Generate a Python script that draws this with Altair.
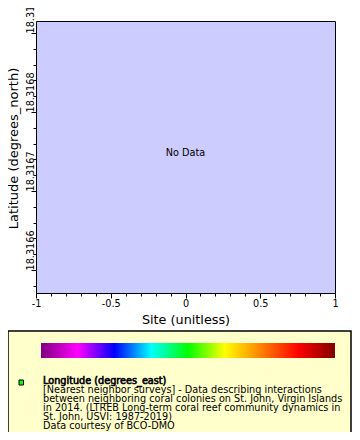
import altair as alt
import pandas as pd

FONT = "DejaVu Sans"

# ---- data / axis values ----
X_DOMAIN = [-1, 1]
X_MAJOR = [-1, -0.5, 0, 0.5, 1]
X_MINOR = [-1, -0.9, -0.8, -0.7, -0.6, -0.5, -0.4, -0.3, -0.2, -0.1, 0,
           0.1, 0.2, 0.3, 0.4, 0.5, 0.6, 0.7, 0.8, 0.9, 1]

LAT_DOMAIN = [18.3165709, 18.3169152]
LAT_MAJOR = [18.3166, 18.3167, 18.3168, 18.3169]
LAT_MINOR = [18.31658, 18.3166, 18.31662, 18.31664, 18.31666, 18.31668,
             18.3167, 18.31672, 18.31674, 18.31676, 18.31678, 18.3168,
             18.31682, 18.31684, 18.31686, 18.31688, 18.3169]

NO_DATA_SITE = [0]
NO_DATA_LAT = [18.316748]
NO_DATA_TEXT = ["No Data"]

LON_DOMAIN = [-180, 180]
LON_TICKS = [-180, -135, -90, -45, 0, 45, 90, 135, 180]
PALETTE = ["#800080", "#ff00ff", "#0000ff", "#00ffff", "#00ff00",
           "#ffff00", "#ff8000", "#ff0000", "#800000"]

LEGEND_TITLE = "Longitude (degrees_east)"
LEGEND_LINES = [
    "[Nearest neighbor surveys] - Data describing interactions",
    "between neighboring coral colonies on St. John, Virgin Islands",
    "in 2014. (LTREB Long-term coral reef community dynamics in",
    "St. John, USVI: 1987-2019)",
    "Data courtesy of BCO-DMO",
]

nd = pd.DataFrame({"site": NO_DATA_SITE, "lat": NO_DATA_LAT, "label": NO_DATA_TEXT})
dummy = pd.DataFrame({"k": [0]})
bar = pd.DataFrame({"lo": [LON_DOMAIN[0]], "hi": [LON_DOMAIN[1]]})

xscale = alt.Scale(domain=X_DOMAIN, nice=False, zero=False)
yscale = alt.Scale(domain=LAT_DOMAIN, nice=False, zero=False)

FS = 9.7

# legend box (drawn first, below everything)
box = alt.Chart(dummy).mark_rect(fill="#ffffcc", stroke="black", strokeWidth=1.5).encode(
    x=alt.value(-28), x2=alt.value(315), y=alt.value(310), y2=alt.value(417)
)

# minor ticks
minor = alt.Chart(nd).mark_text(opacity=0).encode(
    x=alt.X("site:Q", scale=xscale, axis=alt.Axis(
        orient="bottom", values=X_MINOR, labels=False, tickSize=3, tickColor="black",
        domain=False, grid=False, title=None)),
    y=alt.Y("lat:Q", scale=yscale, axis=alt.Axis(
        orient="left", values=LAT_MINOR, labels=False, tickSize=3, tickColor="black",
        domain=False, grid=False, title=None)),
    text="label:N",
)

# major ticks + labels + "No Data"
main = alt.Chart(nd).mark_text(font=FONT, fontSize=FS, color="black", baseline="middle").encode(
    x=alt.X("site:Q", scale=xscale, axis=alt.Axis(
        orient="bottom", values=X_MAJOR, tickSize=5, tickColor="black",
        labelExpr="toString(datum.value)", labelFont=FONT, labelFontSize=FS,
        labelColor="black", labelOverlap=False, labelFlush=False, labelPadding=0,
        domain=False, grid=False,
        title="Site (unitless)", titleFont=FONT, titleFontSize=12.8,
        titleFontWeight="normal", titleColor="black",
        titleX=149.5, titleY=26, titleAlign="center", titleBaseline="middle")),
    y=alt.Y("lat:Q", scale=yscale, axis=alt.Axis(
        orient="left", values=LAT_MAJOR, tickSize=5, tickColor="black",
        labelExpr="toString(datum.value)", labelFont=FONT, labelFontSize=FS,
        labelColor="black", labelOverlap=False, labelFlush=False,
        labelAngle=-90, labelAlign="left", labelBaseline="bottom", labelPadding=-4,
        domain=False, grid=False,
        title="Latitude (degrees_north)", titleFont=FONT, titleFontSize=13,
        titleFontWeight="normal", titleColor="black", titleAngle=-90,
        titleX=-22.5, titleY=127, titleAlign="center", titleBaseline="middle")),
    text="label:N",
)

gradient = {
    "gradient": "linear", "x1": 0, "x2": 1, "y1": 0, "y2": 0,
    "stops": [{"offset": i / (len(PALETTE) - 1), "color": c} for i, c in enumerate(PALETTE)],
}

colorbar = alt.Chart(bar).mark_rect(fill=gradient).encode(
    x=alt.X("lo:Q", scale=alt.Scale(domain=LON_DOMAIN, range=[5, 299], nice=False, zero=False),
            axis=alt.Axis(orient="bottom", offset=65, values=LON_TICKS, tickSize=3,
                          tickColor="black", labelExpr="toString(datum.value)",
                          labelFont=FONT, labelFontSize=FS, labelColor="black",
                          labelOverlap=False, labelFlush=False, labelPadding=1,
                          domain=False, grid=False, title=None)),
    x2="hi:Q",
    y=alt.value(322), y2=alt.value(337),
)

marker = alt.Chart(dummy).mark_rect(fill="#00ff00", stroke="black", strokeWidth=1).encode(
    x=alt.value(-17), x2=alt.value(-12.5), y=alt.value(359), y2=alt.value(364)
)

# synthetic bold (regular metrics + stroke), like the reference
legend_title = alt.Chart(dummy).mark_text(
    text=LEGEND_TITLE, font=FONT, fontSize=FS, align="left",
    baseline="alphabetic", color="black", stroke="black", strokeWidth=0.6
).encode(x=alt.value(7), y=alt.value(363))

legend_desc = alt.Chart(dummy).mark_text(
    text=LEGEND_LINES, font=FONT, fontSize=FS, align="left", baseline="alphabetic",
    lineHeight=9, color="black"
).encode(x=alt.value(7), y=alt.value(372))

chart = alt.layer(box, minor, main, colorbar, marker, legend_title, legend_desc).resolve_scale(
    x="independent", y="independent"
).properties(
    width=299, height=272,
    autosize=alt.AutoSizeParams(type="none"),
    padding={"left": 28, "top": 13, "right": 17, "bottom": 139},
    background="white",
).configure_view(fill="#ccccff", stroke="black", strokeWidth=1)

chart.save("out.html", embed_options={"renderer": "svg", "actions": False})
